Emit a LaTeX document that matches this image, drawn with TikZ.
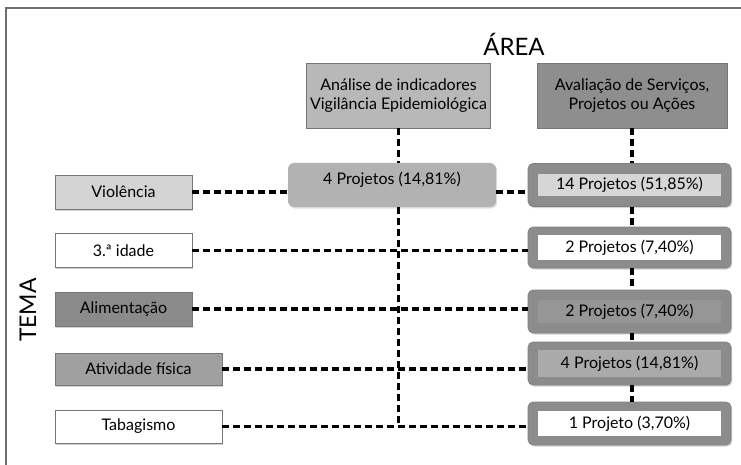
\documentclass[tikz,border=0pt]{standalone}
\usepackage{xcolor}
\usepackage{fontspec}
\setmainfont{Lato}
\usetikzlibrary{shadows}
\definecolor{frame}{RGB}{110,110,110}
\definecolor{edge}{RGB}{118,118,118}
\definecolor{analise}{RGB}{184,184,184}
\definecolor{avaliacao}{RGB}{142,142,142}
\definecolor{violencia}{RGB}{212,212,212}
\definecolor{alimentacao}{RGB}{138,138,138}
\definecolor{atividade}{RGB}{160,160,160}
\definecolor{quatro}{RGB}{178,178,178}
\definecolor{outer}{RGB}{140,140,140}
\definecolor{quatroin}{RGB}{170,170,170}
\definecolor{alimin}{RGB}{150,150,150}
\definecolor{catorzein}{RGB}{214,214,214}
\tikzstyle{txt}=[font=\fontsize{16}{19}\selectfont, text=black]
\tikzstyle{areabox}=[txt, draw=edge, line width=.8pt, align=center, minimum height=65pt,
  drop shadow={shadow xshift=1.2pt, shadow yshift=-1.5pt, opacity=.35}]
\tikzstyle{temabox}=[txt, draw=edge, line width=.8pt, minimum height=34pt,
  drop shadow={shadow xshift=1.2pt, shadow yshift=-1.5pt, opacity=.35}]
\tikzstyle{outbox}=[fill=outer, draw=outer!90!black, line width=.6pt, rounded corners=5pt,
  minimum width=203pt, minimum height=43pt,
  drop shadow={shadow xshift=1.2pt, shadow yshift=-1.5pt, opacity=.35}]
\tikzstyle{inbox}=[txt, minimum width=183pt, inner sep=0pt]
\tikzstyle{dashlink}=[line width=3.4pt, dash pattern=on 7pt off 4pt]

\begin{document}
\begin{tikzpicture}[x=1pt, y=-1pt]
  \useasboundingbox (0,0) rectangle (741,465);
  \draw[frame, line width=1.5pt] (741,8) -- (6,8) -- (6,465);

  %% Headings
  \draw (514,44) node[font=\fontsize{24}{24}\selectfont] (area) {ÁREA};
  \draw (28,310) node[font=\fontsize{23}{23}\selectfont, rotate=90] (tema) {TEMA};

  %% Area boxes
  \draw (398.5,95.5) node[areabox, fill=analise, minimum width=183pt] (A1)
    {Análise de indicadores\\Vigilância Epidemiológica};
  \draw (632,95.5) node[areabox, fill=avaliacao, minimum width=190pt] (A2)
    {Avaliação de Serviços,\\Projetos ou Ações};

  %% Theme boxes
  \draw (123.5,192) node[temabox, fill=violencia, minimum width=137pt] (T1) {Violência};
  \draw (123.5,250.5) node[temabox, fill=white, minimum width=137pt] (T2) {3.ª idade};
  \draw (123.5,309) node[temabox, fill=alimentacao, minimum width=137pt] (T3) {Alimentação};
  \draw (138.5,369) node[temabox, fill=atividade, minimum width=167pt, minimum height=32pt] (T4) {Atividade física};
  \draw (138.5,426.5) node[temabox, fill=white, minimum width=167pt, minimum height=33pt] (T5) {Tabagismo};

  %% Project counts, first area
  \draw (392,185) node[fill=quatro, rounded corners=6pt, minimum width=208pt, minimum height=44pt,
    drop shadow={shadow xshift=1.2pt, shadow yshift=-1.5pt, opacity=.25}] (P1) {};
  \draw (392,180) node[txt] {4 Projetos (14,81\%)};

  %% Project counts, second area
  \draw (629.5,185) node[outbox] (R1) {};
  \draw (629.5,185) node[inbox, fill=catorzein, minimum height=22pt] {14 Projetos (51,85\%)};
  \draw (629.5,247.5) node[outbox, minimum height=41pt] (R2) {};
  \draw (629.5,247.5) node[inbox, fill=white, minimum height=25pt] {2 Projetos (7,40\%)};
  \draw (629.5,311.5) node[outbox] (R3) {};
  \draw (629.5,311.5) node[inbox, fill=alimin, minimum height=23pt] {2 Projetos (7,40\%)};
  \draw (629.5,363.5) node[outbox] (R4) {};
  \draw (629.5,363.5) node[inbox, fill=quatroin, minimum height=27pt] {4 Projetos (14,81\%)};
  \draw (629.5,423.5) node[outbox] (R5) {};
  \draw (629.5,423.5) node[inbox, fill=white, minimum height=25pt] {1 Projeto (3,70\%)};

  %% Links
  \draw[dashlink] (A1.south) -- (A1.south |- P1.north);
  \draw[dashlink] (A1.south |- P1.south) -- (A1.south |- T5.east);
  \draw[dashlink] (A2.south) -- (A2.south |- R1.north);
  \draw[dashlink] (A2.south |- R1.south) -- (A2.south |- R2.north);
  \draw[dashlink] (A2.south |- R2.south) -- (A2.south |- R3.north);
  \draw[dashlink] (A2.south |- R3.south) -- (A2.south |- R4.north);
  \draw[dashlink] (A2.south |- R4.south) -- (A2.south |- R5.north);

  \draw[dashlink] (T1.east) -- (T1.east -| P1.west);
  \draw[dashlink] (T1.east -| P1.east) -- (T1.east -| R1.west);
  \draw[dashlink] (T2.east) -- (T2.east -| R2.west);
  \draw[dashlink] (T3.east) -- (T3.east -| R3.west);
  \draw[dashlink] (T4.east) -- (T4.east -| R4.west);
  \draw[dashlink] (T5.east) -- (T5.east -| R5.west);
\end{tikzpicture}
\end{document}
